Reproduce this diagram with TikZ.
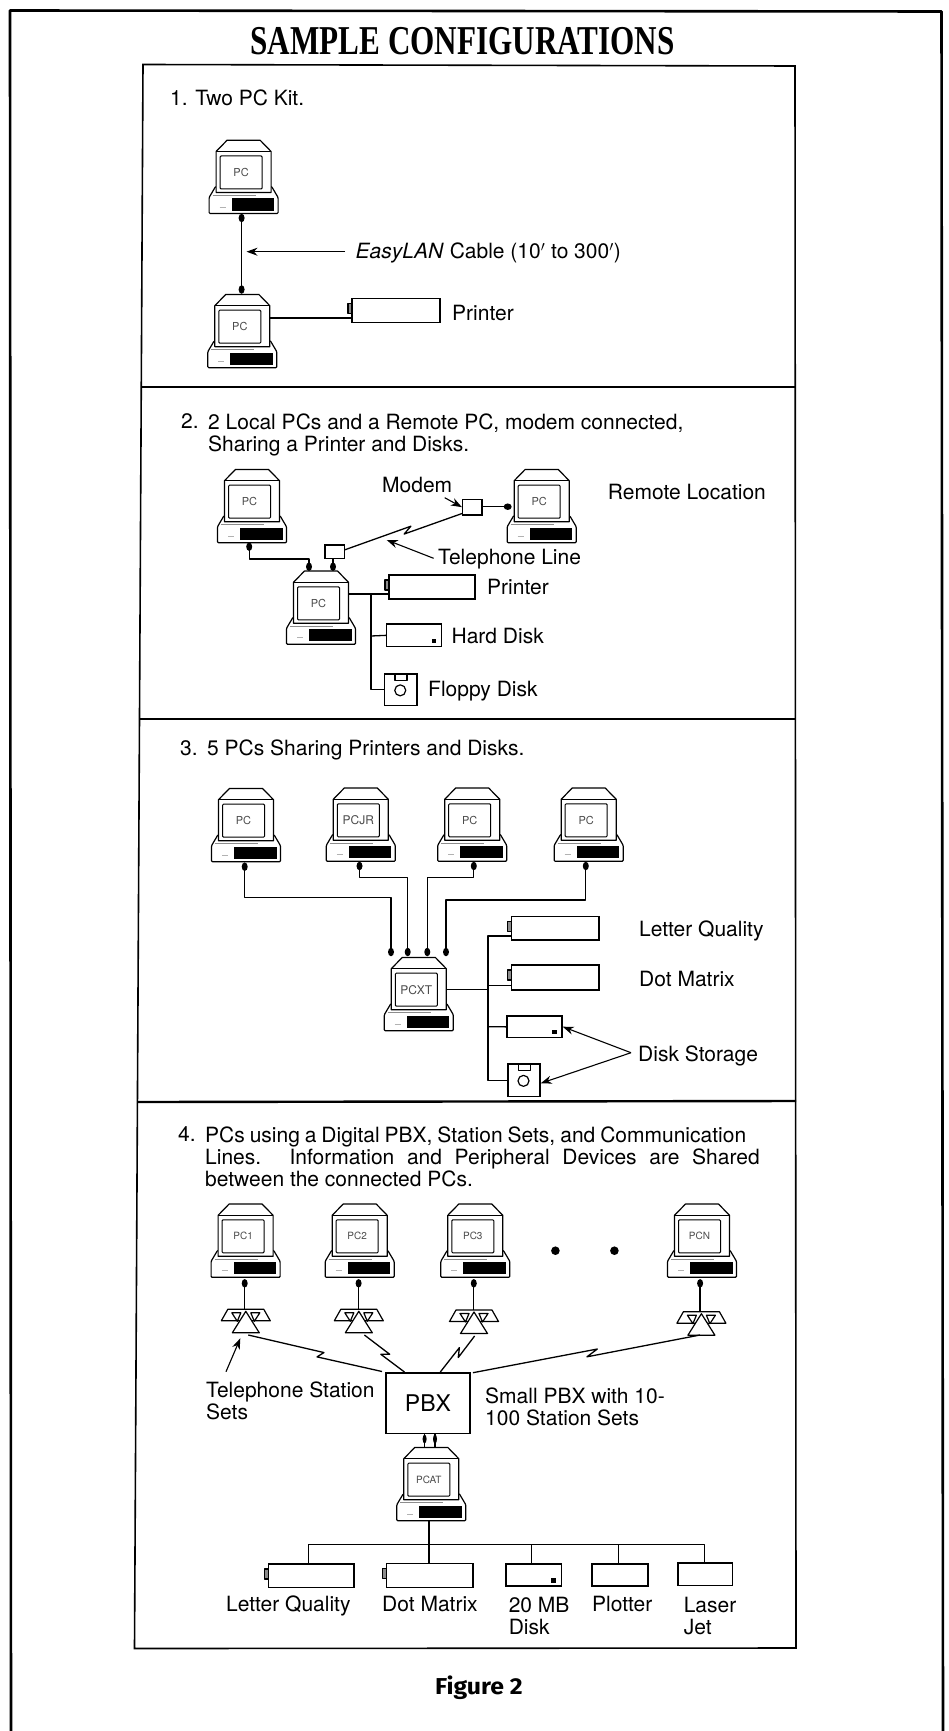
\documentclass[tikz,border=0pt]{standalone}
\usepackage{fontspec}
\setmainfont{TeX Gyre Heros}
\newfontfamily\titlefont[FakeStretch=0.76]{Liberation Serif}
\newfontfamily\figfont[FakeStretch=1.08]{Fira Sans}
\usetikzlibrary{arrows.meta,calc,shapes.geometric}
\tikzset{
  wire/.style={line width=1.3pt,black,line join=round},
  pcline/.style={line width=1.2pt,black,line join=round},
  lead/.style={line width=1.1pt,black,-{Stealth[length=11pt,width=8pt]}},
  panel/.style={line width=1.6pt,black},
  outerframe/.style={line width=2.6pt,black,line join=round},
  plug/.style={ellipse,fill=black,inner sep=0pt,minimum width=6pt,minimum height=8.5pt},
  plugh/.style={ellipse,fill=black,inner sep=0pt,minimum width=8pt,minimum height=6.5pt},
  plugn/.style={ellipse,fill=black,inner sep=0pt,minimum width=4pt,minimum height=9pt},
  lbl/.style={anchor=base west,inner sep=0pt,font=\fontsize{21}{22}\selectfont,black},
  para/.style={anchor=north west,inner sep=0pt,align=left,font=\fontsize{21}{22}\selectfont,black},
  screenbox/.style={draw=black,line width=1pt,rounded corners=1pt,fill=white,minimum width=42pt,minimum height=33pt,inner sep=0pt,text=black!70,font=\fontsize{#1}{#1}\selectfont},
  screenbox/.default=10.5,
  devbox/.style={draw=black,line width=1.4pt,fill=white,inner sep=0pt},
}
\newcommand{\pcunit}[5][11]{%
  \begin{scope}[shift={(#3,#4)}]
    \draw[pcline,fill=white,rounded corners=1pt] (-34.5,-16)--(-28,-27)--(28,-27)--(34.5,-16)--(34.5,0)--(-34.5,0)--cycle;
    \fill[black] (-12,-15) rectangle (30.5,-3);
    \draw[black!45,line width=1.3pt] (-31,-18)--(12,-18);
    \draw[black!30,line width=.9pt] (-24,-6.5)--(-18,-6.5);
    \draw[pcline,fill=white] (-27.5,-21)--(-27.5,-62)--(-16.5,-73.3)--(16.5,-73.3)--(27.5,-62)--(27.5,-21)--cycle;
    \draw[pcline] (-27.5,-62)--(27.5,-62);
    \node[screenbox=#1] (#2) at (-2.5,-41) {#5};
    \coordinate (#2-b) at (0,0);
    \coordinate (#2-t) at (0,-73.3);
    \coordinate (#2-r) at (27.5,-40);
  \end{scope}}
\newcommand{\dev}[5]{%
  \node[devbox,minimum width={(#4-#2)*1pt},minimum height={(#5-#3)*1pt}] (#1) at ({(#2+#4)/2},{(#3+#5)/2}) {};}
\newcommand{\printerbox}[5]{%
  \draw[pcline,fill=black!45] (#2-4,#3+5) rectangle (#2,#3+15);
  \dev{#1}{#2}{#3}{#4}{#5}}
\newcommand{\harddisk}[5]{%
  \dev{#1}{#2}{#3}{#4}{#5}
  \fill[black] (#4-10,#5-8) rectangle (#4-5.5,#5-3.5);}
\newcommand{\floppy}[5]{%
  \dev{#1}{#2}{#3}{#4}{#5}
  \draw[pcline] (#2+10.5,#3) rectangle (#2+22.5,#3+6.5);
  \draw[pcline] ({(#2+#4)/2-0.5},{(#3+#5)/2+0.5}) ellipse [x radius=5.5pt,y radius=5.5pt];}
\newcommand{\phoneset}[3]{%
  \begin{scope}[shift={(#2,#3)}]
    \draw[pcline,fill=white] (-18,0)--(18,0)--(24.5,11.5)--(-24.5,11.5)--cycle;
    \draw[pcline,fill=white] (-14,3.5)--(-5,3.5)--(-8.5,12)--cycle;
    \draw[pcline,fill=white] (14,3.5)--(5,3.5)--(8.5,12)--cycle;
    \draw[pcline,fill=white] (0,2)--(13.5,23.5)--(-13.5,23.5)--cycle;
    \coordinate (#1) at (0,0);
    \coordinate (#1-b) at (2,26);
  \end{scope}}
\newcommand{\zig}[6]{%
  \draw[wire] (#1) -- ($(#1)!#3!(#2)!#5pt!90:(#2)$) -- ($(#1)!#4!(#2)!#6pt!-90:(#2)$) -- (#2);}
\begin{document}
\begin{tikzpicture}[x=1pt,y=-1pt]
\useasboundingbox (0,0) rectangle (949,1731);
\fill[white] (0,0) rectangle (949,1731);
% frames
\draw[outerframe] (11,1740)--(10,10.5)--(941.5,11.5)--(943,1740);
\draw[panel] (143,64.5)--(795,66)--(796,1648)--(134.5,1648.5)--cycle;
\draw[panel,line width=2pt] (141,386.5)--(795.5,386.5);
\draw[panel,line width=2pt] (140,718.5)--(795.5,718.5);
\draw[panel,line width=2.4pt] (137.5,1102)--(796,1101);
% title
\node[inner sep=0pt,font=\titlefont\bfseries\fontsize{41}{41}\selectfont] (title) at (462.6,41) {SAMPLE CONFIGURATIONS};
\node[inner sep=0pt,font=\figfont\bfseries\fontsize{23}{23}\selectfont] (figlabel) at (479,1688) {Figure 2};

% ---------- panel 1
\node[lbl] (t1) at (170,106) {1. Two PC Kit.};
\pcunit{a1}{243.6}{213.5}{PC}
\pcunit{a2}{242.3}{367.7}{PC}
\node[plug] (a1p) at (241.6,218) {};
\node[plug] (a2p) at (241.6,289.5) {};
\draw[wire] (a1p.center)--(a2p.center);
\node[lbl] (cablelabel) at (355.4,258.7) {\textit{EasyLAN} Cable (10$'$ to 300$'$)};
\coordinate (cableend) at (345,251.7);
\coordinate (cabletip) at (246.5,251.7);
\draw[lead] (cableend)--(cabletip);
\printerbox{a3}{352}{298.3}{439.8}{322.3}
\draw[wire] (a2-r |- 0,318)--(a3.west |- 0,318);
\node[lbl] (a3l) at (452,320) {Printer};

% ---------- panel 2
\node[lbl] (t2n) at (181,428.7) {2.};
\node[para] (t2) at (208,414) {2 Local PCs and a Remote PC, modem connected,\\Sharing a Printer and Disks.};
\pcunit{b1}{252}{542.7}{PC}
\pcunit{b2}{321}{644.3}{PC}
\pcunit{b3}{541.7}{542.7}{PC}
\dev{m1}{462.6}{499.3}{481.8}{515}
\dev{m2}{325}{545}{344.3}{558.3}
\node[plugh] (b3p) at (507.7,506.7) {};
\draw[wire] (m1.east |- b3p)--(b3p.center);
\node[plug] (b1p) at (249.2,546.7) {};
\node[plug] (b2pa) at (309,566.7) {};
\node[plug] (b2pb) at (333,566.7) {};
\draw[wire] (b1p.center)--(b1p.center |- 0,559)--(b2pa.center |- 0,559)--(b2pa.center);
\draw[wire] (b2pb.center)--(m2.south -| b2pb.center);
\coordinate (m2c) at (344.3,550);
\coordinate (m1c) at (462.6,513.3);
\zig{m2c}{m1c}{0.57}{0.50}{3}{2.5}
\node[lbl] (modemlabel) at (382,492.7) {Modem};
\coordinate (modemarrow) at (444.7,497.7);
\draw[lead] (modemarrow)--(m1.west);
\node[lbl] (telelabel) at (438,564.3) {Telephone Line};
\coordinate (telearrow) at (433.6,558.3);
\coordinate (teletip) at (386.7,540);
\draw[lead] (telearrow)--(teletip);
\node[lbl] (remotelabel) at (607.7,499.7) {Remote Location};
\printerbox{b4}{389}{575}{475}{599}
\harddisk{b5}{386.7}{624}{441.6}{646.7}
\floppy{b6}{384.5}{674}{417}{705.7}
\draw[wire] (b2-r |- 0,594)--(b4.west |- 0,594);
\draw[wire] (371,594)--(371,689.3)--(b6.west |- 0,689.3);
\draw[wire] (371,636)--(b5.west);
\node[lbl] (b4l) at (487,594) {Printer};
\node[lbl] (b5l) at (451.4,643.7) {Hard Disk};
\node[lbl] (b6l) at (428,696.3) {Floppy Disk};

% ---------- panel 3
\node[lbl] (t3n) at (180,755) {3.};
\node[lbl] (t3) at (207,755) {5 PCs Sharing Printers and Disks.};
\pcunit{c1}{246}{861.7}{PC}
\pcunit[12]{c2}{360.8}{861.3}{PCJR}
\pcunit{c3}{472.2}{861.3}{PC}
\pcunit{c4}{588.7}{861.3}{PC}
\pcunit[12]{c5}{418.8}{1030.7}{PCXT}
\node[plug] (c1p) at (244.7,866.7) {};
\node[plug] (c2p) at (359.5,866) {};
\node[plug] (c3p) at (473.8,866) {};
\node[plug] (c4p) at (585.8,866) {};
\node[plug] (c5a) at (391,952) {};
\node[plug] (c5b) at (407.7,952) {};
\node[plug] (c5c) at (427.3,952) {};
\node[plug] (c5d) at (446,952) {};
\draw[wire] (c1p.center)--(c1p.center |- 0,897.7)--(c5a.center |- 0,897.7)--(c5a.center);
\draw[wire] (c2p.center)--(c2p.center |- 0,877.3)--(c5b.center |- 0,877.3)--(c5b.center);
\draw[wire] (c3p.center)--(c3p.center |- 0,877.3)--(c5c.center |- 0,877.3)--(c5c.center);
\draw[wire] (c4p.center)--(c4p.center |- 0,900)--(c5d.center |- 0,900)--(c5d.center);
\printerbox{c6}{511.7}{916.7}{598.8}{940}
\printerbox{c7}{511.7}{965}{598.8}{990}
\harddisk{c8}{507}{1016}{562}{1037.7}
\floppy{c9}{508}{1064}{540}{1096.7}
\draw[wire] (c5-r |- 0,989.3)--(488,989.3);
\draw[wire] (c6.west |- 0,936)--(488,936)--(488,1080.7)--(c9.west |- 0,1080.7);
\draw[wire] (488,985.7)--(c7.west |- 0,985.7);
\draw[wire] (488,1026.7)--(c8.west);
\node[lbl] (c6l) at (639,936.3) {Letter Quality};
\node[lbl] (c7l) at (639,986) {Dot Matrix};
\node[lbl] (c8l) at (638,1061) {Disk Storage};
\coordinate (diskfork) at (631,1052.7);
\draw[lead] (diskfork)--(c8.east |- 0,1026.7);
\draw[lead] (diskfork)--(c9.east |- 0,1083.3);

% ---------- panel 4
\node[lbl] (t4n) at (178,1141.3) {4.};
\node[para] (t4) at (205,1127) {\makebox[541pt][s]{PCs using a Digital PBX, Station Sets, and\ Communication}\\\makebox[554.5pt][s]{Lines. Information and Peripheral Devices are Shared}\\between the connected PCs.};
\pcunit[10]{d1}{245.6}{1277.3}{PC1}
\pcunit[10]{d2}{359.7}{1277.3}{PC2}
\pcunit[10]{d3}{475.3}{1277.3}{PC3}
\pcunit[10]{d4}{702}{1277.3}{PCN}
\fill[black] (555.4,1250.7) circle [radius=4.3pt];
\fill[black] (614.4,1250.7) circle [radius=4.3pt];
\phoneset{e1}{245.8}{1309.3}
\phoneset{e2}{358.8}{1309.3}
\phoneset{e3}{474}{1310}
\phoneset{e4}{701.4}{1311.7}
\node[plug] (d1p) at (244.7,1283.3) {};
\node[plug] (d2p) at (358.6,1283.3) {};
\node[plug] (d3p) at (473.8,1283.3) {};
\node[plug] (d4p) at (700.1,1283.3) {};
\draw[wire] (d1p.center)--(d1p.center |- e1);
\draw[wire] (d2p.center)--(d2p.center |- e2);
\draw[wire] (d3p.center)--(d3p.center |- e3);
\draw[wire] (d4p.center)--(d4p.center |- e4);
\node[draw=black,line width=1.6pt,fill=white,minimum width=84.4pt,minimum height=60.6pt,inner sep=0pt,font=\fontsize{23}{23}\selectfont] (pbx) at (428,1403) {PBX};
\coordinate (f1) at (382,1371.5);
\coordinate (f2) at (404.5,1372);
\coordinate (f3) at (440.3,1372);
\coordinate (f4) at (472.9,1372.7);
\coordinate (e1x) at (248.3,1335);
\coordinate (e2x) at (364.4,1335);
\coordinate (e3x) at (474.6,1336);
\coordinate (e4x) at (700,1335);
\zig{e1x}{f1}{0.56}{0.52}{3}{3}
\zig{e2x}{f2}{0.58}{0.46}{3}{3}
\zig{f3}{e3x}{0.62}{0.46}{3}{3}
\zig{f4}{e4x}{0.55}{0.50}{3}{3}
\node[para] (stationlabel) at (206,1382) {Telephone Station\\Sets};
\coordinate (stationarrow) at (226,1371.7);
\coordinate (stationtip) at (240.3,1338.3);
\draw[lead] (stationarrow)--(stationtip);
\node[para] (pbxlabel) at (485,1388) {Small PBX with 10-\\100 Station Sets};
\pcunit[10]{g0}{431.3}{1520.7}{PCAT}
\coordinate (g0a) at (424.6,1447);
\coordinate (g0b) at (435,1447);
\node[plugn] (g0ap) at (424.6,1439) {};
\node[plugn] (g0bp) at (435,1439) {};
\draw[wire] (pbx.south -| g0a)--(g0a);
\draw[wire] (pbx.south -| g0b)--(g0b);
\printerbox{g1}{268.4}{1564}{354}{1587.7}
\printerbox{g2}{386.7}{1563.5}{472.9}{1587.5}
\harddisk{g3}{505.9}{1564}{561.2}{1586}
\dev{g4}{592}{1564}{647.9}{1586}
\dev{g5}{677.8}{1563}{732.7}{1585.5}
\draw[wire] (g0-b -| 429,0)--(429,1563.5);
\draw[wire] (308.6,1563.5)--(308.6,1544.3)--(704.5,1544.3)--(704.5,1563);
\draw[wire] (531.8,1544.3)--(531.8,1564);
\draw[wire,line width=1pt] (618.8,1544.3)--(618.8,1564);
\node[lbl] (g1l) at (226,1611) {Letter Quality};
\node[lbl] (g2l) at (382,1611) {Dot Matrix};
\node[para] (g3l) at (508.6,1596.5) {20 MB\\Disk};
\node[lbl] (g4l) at (592,1611) {Plotter};
\node[para] (g5l) at (683.6,1596.5) {Laser\\Jet};
\end{tikzpicture}
\end{document}
